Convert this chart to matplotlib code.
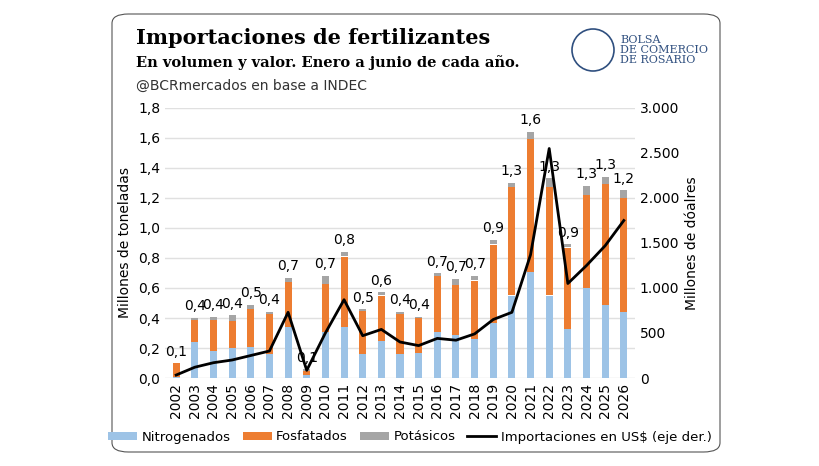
import matplotlib
matplotlib.use("Agg")
import matplotlib.pyplot as plt
from matplotlib.patches import FancyBboxPatch, Ellipse
import numpy as np

years = [str(y) for y in range(2002, 2027)]
nitro = [0.01,0.24,0.18,0.20,0.21,0.16,0.34,0.02,0.31,0.34,0.16,0.25,0.16,0.17,0.31,0.29,0.26,0.37,0.55,0.71,0.55,0.33,0.60,0.49,0.44]
nf_top = [0.10,0.39,0.39,0.38,0.46,0.43,0.64,0.05,0.63,0.81,0.45,0.55,0.43,0.40,0.68,0.62,0.65,0.89,1.27,1.59,1.27,0.87,1.22,1.29,1.20]
total = [0.10,0.40,0.41,0.42,0.49,0.44,0.67,0.06,0.68,0.84,0.46,0.57,0.44,0.41,0.70,0.66,0.68,0.92,1.30,1.64,1.33,0.89,1.28,1.34,1.25]
usd = [33,120,170,200,250,300,730,85,500,870,470,540,400,360,440,420,490,650,730,1370,2550,1050,1250,1470,1750]
labels = ["0,1","0,4","0,4","0,4","0,5","0,4","0,7","0,1","0,7","0,8","0,5","0,6","0,4","0,4","0,7","0,7","0,7","0,9","1,3","1,6","1,3","0,9","1,3","1,3","1,2"]

fos = [a-b for a,b in zip(nf_top,nitro)]
pot = [a-b for a,b in zip(total,nf_top)]

W,H = 820,466
fig = plt.figure(figsize=(W/100,H/100), dpi=100)
fig.patches.append(FancyBboxPatch((112/W,14/H),(720-112)/W,(452-14)/H,
    boxstyle="round,pad=0,rounding_size=0.02", transform=fig.transFigure,
    fill=False, ec="#555555", lw=0.8))

ax = fig.add_axes([165/W, 1-378/H, (635-165)/W, (378-108)/H])
x = np.arange(len(years))
bw = 0.38
ax.bar(x, nitro, bw, color="#9DC3E6", label="Nitrogenados", zorder=2)
ax.bar(x, fos, bw, bottom=nitro, color="#ED7D31", label="Fosfatados", zorder=2)
ax.bar(x, pot, bw, bottom=nf_top, color="#A5A5A5", label="Potásicos", zorder=2)
for i,(t,l) in enumerate(zip(total,labels)):
    ax.text(i, t+0.03, l, ha="center", va="bottom", fontsize=10)
ax.set_ylim(0,1.8)
ax.set_yticks(np.arange(0,1.81,0.2))
ax.set_yticklabels([f"{v:.1f}".replace(".",",") for v in np.arange(0,1.81,0.2)], fontsize=10)
ax.set_xlim(-0.6, len(years)-0.4)
ax.set_xticks(x)
ax.set_xticklabels(years, rotation=90, fontsize=10)
ax.grid(axis="y", color="#E0E0E0", lw=1, zorder=0)
for s in ax.spines.values(): s.set_visible(False)
ax.tick_params(length=0)
ax.set_ylabel("Millones de toneladas", fontsize=10)

ax2 = ax.twinx()
ax2.plot(x, usd, color="black", lw=2, label="Importaciones en US$ (eje der.)")
ax2.set_ylim(0,3000)
ax2.set_yticks(range(0,3001,500))
ax2.set_yticklabels(["0","500","1.000","1.500","2.000","2.500","3.000"], fontsize=10)
for s in ax2.spines.values(): s.set_visible(False)
ax2.tick_params(length=0)
ax2.set_ylabel("Millones de dóalres", fontsize=10)

h1,l1 = ax.get_legend_handles_labels()
h2,l2 = ax2.get_legend_handles_labels()
fig.legend(h1+h2, l1+l2, loc="center", bbox_to_anchor=(0.5, 1-437/H), ncol=4,
           frameon=False, fontsize=9.5, handlelength=2.2, handleheight=0.6,
           columnspacing=0.9, handletextpad=0.35)

fig.text(136/W, 1-38/H, "Importaciones de fertilizantes", fontsize=15, fontweight="bold",
         family="DejaVu Serif", va="center")
fig.text(136/W, 1-63/H, "En volumen y valor. Enero a junio de cada año.", fontsize=10.5,
         fontweight="bold", family="DejaVu Serif", va="center")
fig.text(136/W, 1-86/H, "@BCRmercados en base a INDEC", fontsize=10, va="center", color="#333333")
fig.text(620/W, 1-50/H, "BOLSA\nDE COMERCIO\nDE ROSARIO", fontsize=8, family="DejaVu Serif",
         color="#2F4F7F", va="center", linespacing=1.0)
fig.patches.append(Ellipse((593/W, 1-50/H), 42/W, 42/H, transform=fig.transFigure,
                           fill=False, ec="#2F4F7F", lw=1.2))
fig.savefig("out.png", dpi=100)
